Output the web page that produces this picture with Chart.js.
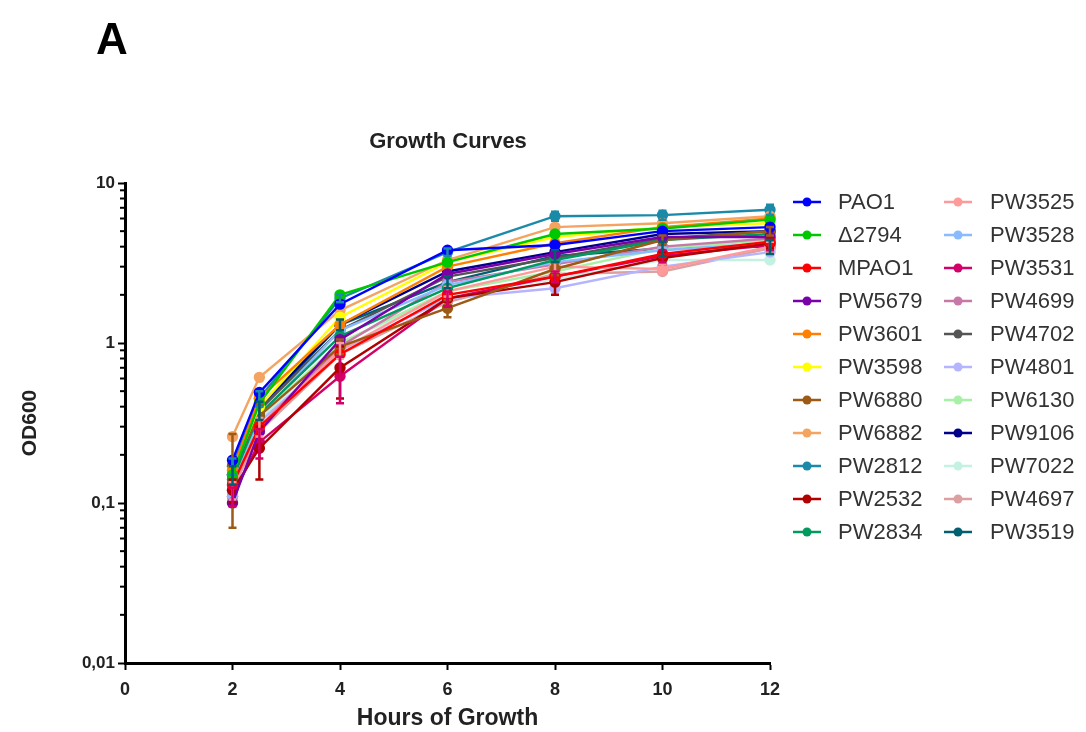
<!DOCTYPE html>
<html>
<head>
<meta charset="utf-8">
<script src="https://cdn.jsdelivr.net/npm/chart.js@4/dist/chart.umd.min.js"></script>
<style>
html,body{margin:0;padding:0;background:#fff;}
#wrap{width:1086px;height:732px;position:relative;}
</style>
</head>
<body>
<div id="wrap"><canvas id="c" width="1086" height="732"></canvas></div>
<script>
// ---- data ----
const hours = [2, 2.5, 4, 6, 8, 10, 12];
const strainNames = ['PAO1','\u03942794','MPAO1','PW5679','PW3601','PW3598','PW6880','PW6882','PW2812','PW2532','PW2834',
                     'PW3525','PW3528','PW3531','PW4699','PW4702','PW4801','PW6130','PW9106','PW7022','PW4697','PW3519'];
const strainColors = ['#0000ff','#00c800','#ff0000','#7a00a8','#ff7f00','#ffff00','#9c5a14','#f4a460','#1a8aa8','#b00000','#009a60',
                      '#ff9a9a','#88bbff','#d4006a','#c878a8','#555555','#b4b4ff','#a8f0a8','#00008b','#c4f2e2','#dca0a0','#005f70'];
const yTickValues = [0.01, 0.1, 1, 10];
const yTickLabels = ['0,01', '0,1', '1', '10'];

const PAO1   = [0.185, 0.49, 1.75, 3.80, 4.10, 5.00, 5.30];
const D2794  = [0.150, 0.42, 2.00, 3.20, 4.80, 5.20, 5.90];
const MPAO1  = [0.130, 0.30, 0.85, 2.00, 2.60, 3.60, 4.30];
const PW5679 = [0.100, 0.28, 1.05, 2.70, 3.60, 4.60, 4.60];
const PW3601 = [0.160, 0.45, 1.30, 3.00, 4.20, 5.30, 6.00];
const PW3598 = [0.160, 0.40, 1.45, 3.20, 4.60, 5.30, 5.60];
const PW6880 = [0.170, 0.35, 0.95, 1.65, 2.90, 4.40, 5.00];
const PW6882 = [0.260, 0.61, 1.60, 3.30, 5.30, 5.60, 6.20];
const PW2812 = [0.170, 0.45, 1.90, 3.70, 6.20, 6.30, 6.80];
const PW2532 = [0.120, 0.22, 0.70, 1.90, 2.40, 3.40, 4.20];
const PW2834 = [0.140, 0.36, 1.10, 2.20, 3.30, 4.40, 4.80];
const PW3525 = [0.120, 0.30, 0.90, 2.10, 3.00, 2.90, 4.00];
const PW3528 = [0.110, 0.35, 1.20, 2.30, 3.20, 3.80, 4.20];
const PW3531 = [0.110, 0.24, 0.62, 1.90, 2.60, 3.50, 4.10];
const PW4699 = [0.120, 0.30, 0.95, 2.40, 3.10, 4.00, 4.50];
const PW4702 = [0.150, 0.38, 1.20, 2.60, 3.40, 4.50, 5.00];
const PW4801 = [0.130, 0.32, 0.90, 1.90, 2.20, 3.00, 3.70];
const PW6130 = [0.140, 0.35, 1.00, 2.10, 2.80, 3.90, 4.40];
const PW9106 = [0.150, 0.40, 1.30, 2.80, 3.70, 4.80, 5.00];
const PW7022 = [0.130, 0.33, 1.00, 2.00, 2.50, 3.30, 3.30];
const PW4697 = [0.120, 0.28, 0.85, 1.80, 2.70, 2.80, 3.90];
const PW3519 = [0.150, 0.38, 1.30, 2.40, 3.50, 3.90, 4.00];

// standard deviations (error bars), zero = no visible bar
const errPW6880 = [0.100, 0.06, 0.10, 0.20, 0.25, 0.30, 0.30];
const errPW2532 = [0.020, 0.08, 0.25, 0.20, 0.40, 0.30, 0.30];
const errPW3531 = [0.015, 0.05, 0.20, 0.20, 0.20, 0.30, 0.30];
const errPW2812 = [0.020, 0.05, 0.10, 0.20, 0.40, 0.40, 0.50];
const errPW3525 = [0.015, 0.04, 0.10, 0.15, 0.20, 0.20, 0.30];
const errPW3519 = [0.020, 0.05, 0.10, 0.20, 0.30, 0.40, 0.40];

const seriesValues = [PAO1, D2794, MPAO1, PW5679, PW3601, PW3598, PW6880, PW6882, PW2812, PW2532, PW2834,
                      PW3525, PW3528, PW3531, PW4699, PW4702, PW4801, PW6130, PW9106, PW7022, PW4697, PW3519];
const seriesErrors = {6: errPW6880, 9: errPW2532, 13: errPW3531, 8: errPW2812, 11: errPW3525, 21: errPW3519};

const FONT = '"Liberation Sans", Arial, sans-serif';

const datasets = seriesValues.map((vals, i) => ({
  label: strainNames[i],
  data: vals.map((v, j) => ({x: hours[j], y: v})),
  err: seriesErrors[i] || null,
  borderColor: strainColors[i],
  backgroundColor: strainColors[i],
  pointBackgroundColor: strainColors[i],
  pointBorderColor: strainColors[i],
  pointRadius: 4.5,
  borderWidth: 2.4,
  tension: 0,
  clip: false
}));

const errorBars = {
  id: 'errorBars',
  afterDatasetsDraw(chart) {
    const ctx = chart.ctx, ys = chart.scales.y, xs = chart.scales.x;
    chart.data.datasets.forEach((ds) => {
      if (!ds.err) return;
      ctx.save();
      ctx.strokeStyle = ds.borderColor;
      ctx.lineWidth = 2.5;
      ds.data.forEach((p, j) => {
        const e = ds.err[j];
        if (!e) return;
        const px = xs.getPixelForValue(p.x);
        const lo = Math.max(p.y - e, 0.011);
        const y1 = ys.getPixelForValue(lo), y2 = ys.getPixelForValue(p.y + e);
        ctx.beginPath();
        ctx.moveTo(px, y1); ctx.lineTo(px, y2);
        ctx.moveTo(px - 4, y1); ctx.lineTo(px + 4, y1);
        ctx.moveTo(px - 4, y2); ctx.lineTo(px + 4, y2);
        ctx.stroke();
      });
      ctx.restore();
    });
  }
};

const decor = {
  id: 'decor',
  afterDraw(chart) {
    const ctx = chart.ctx, ys = chart.scales.y, ca = chart.chartArea;
    ctx.save();
    // minor ticks on log axis
    ctx.strokeStyle = '#000'; ctx.lineWidth = 2;
    for (let d = 0.01; d < 10; d *= 10) {
      for (let m = 2; m <= 9; m++) {
        const py = ys.getPixelForValue(d * m);
        ctx.beginPath(); ctx.moveTo(ca.left - 1, py); ctx.lineTo(ca.left - 5, py); ctx.stroke();
      }
    }
    // panel letter and title
    ctx.fillStyle = '#000';
    ctx.textBaseline = 'middle';
    ctx.textAlign = 'left';
    ctx.font = 'bold 44px ' + FONT;
    ctx.fillText('A', 96, 42);
    ctx.textAlign = 'center';
    ctx.fillStyle = '#222';
    ctx.font = 'bold 22px ' + FONT;
    ctx.fillText('Growth Curves', 448, 142);
    // legend (two columns)
    ctx.font = '22px ' + FONT;
    ctx.textAlign = 'left';
    chart.data.datasets.forEach((ds, i) => {
      const col = i < 11 ? 0 : 1;
      const row = i % 11;
      const x0 = col === 0 ? 793 : 944;
      const y = 202 + row * 33;
      ctx.strokeStyle = ds.borderColor; ctx.fillStyle = ds.borderColor; ctx.lineWidth = 2.5;
      ctx.beginPath(); ctx.moveTo(x0, y); ctx.lineTo(x0 + 28, y); ctx.stroke();
      ctx.beginPath(); ctx.arc(x0 + 14, y, 4.5, 0, Math.PI * 2); ctx.fill();
      ctx.fillStyle = '#333';
      ctx.fillText(ds.label, col === 0 ? 838 : 990, y + 1);
    });
    ctx.restore();
  }
};

new Chart(document.getElementById('c'), {
  type: 'line',
  data: { datasets },
  plugins: [errorBars, decor],
  options: {
    responsive: false,
    animation: false,
    devicePixelRatio: 1,
    layout: { padding: { left: 0, right: 316, top: 183, bottom: 0 } },
    plugins: { legend: { display: false }, tooltip: { enabled: false } },
    scales: {
      x: {
        type: 'linear', min: 0, max: 12,
        afterFit(s) { s.height = 69; },
        ticks: { stepSize: 2, color: '#222', font: { family: FONT, size: 18, weight: 'bold' }, padding: 9, maxRotation: 0 },
        grid: { drawOnChartArea: false, drawTicks: true, tickLength: 7, tickWidth: 2, tickColor: '#000' },
        border: { display: true, width: 3, color: '#000' },
        title: { display: true, text: 'Hours of Growth', color: '#222', font: { family: FONT, size: 23, weight: 'bold' }, padding: { top: 0, bottom: 0 } }
      },
      y: {
        type: 'logarithmic', min: 0.01, max: 10,
        afterFit(s) { s.width = 125; },
        afterBuildTicks(s) { s.ticks = yTickValues.map(v => ({ value: v, major: true })); },
        ticks: {
          color: '#222', padding: 3,
          font: { family: FONT, size: 17, weight: 'bold' },
          callback: (v) => { const k = yTickValues.indexOf(v); return k >= 0 ? yTickLabels[k] : ''; }
        },
        grid: { drawOnChartArea: false, drawTicks: true, tickLength: 7, tickWidth: 2, tickColor: '#000' },
        border: { display: true, width: 3, color: '#000' },
        title: { display: true, text: 'OD600', color: '#222', font: { family: FONT, size: 21, weight: 'bold' }, padding: { top: 18, bottom: 0 } }
      }
    }
  }
});
</script>
</body>
</html>
